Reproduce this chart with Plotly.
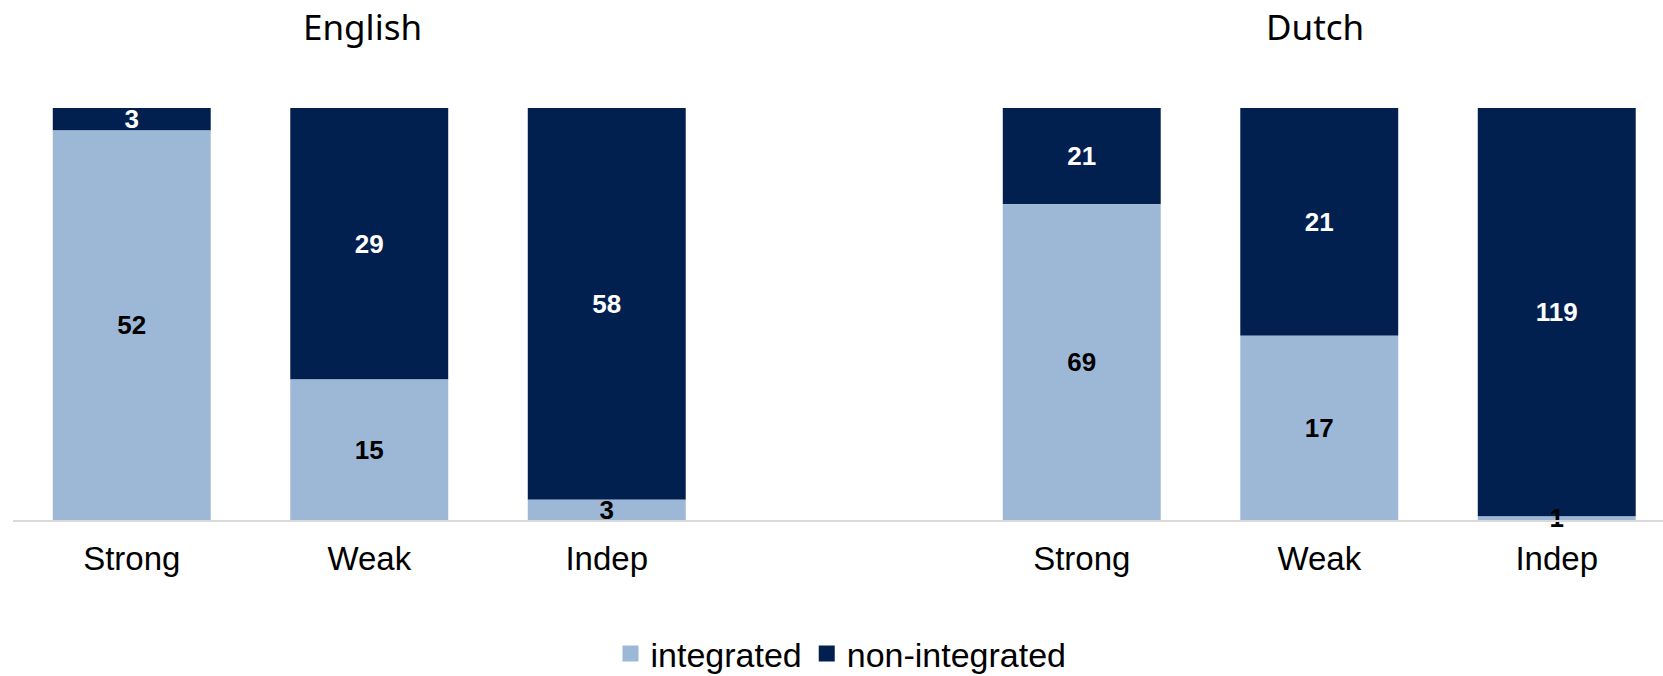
import plotly.graph_objects as go

# Clause types per language
languages = ["English", "Dutch"]
clause_types = ["Strong", "Weak", "Indep"]

# Counts per language, in clause_types order
english_integrated = [52, 15, 3]
english_non_integrated = [3, 29, 58]
dutch_integrated = [69, 17, 1]
dutch_non_integrated = [21, 21, 119]

LIGHT = "#9db8d6"
DARK = "#012050"
LABEL_FONT = "Liberation Sans, Arial"

# Category keys: one block per language, with an empty slot between the blocks
en_keys = [f"English {c}" for c in clause_types]
nl_keys = [f"Dutch {c}" for c in clause_types]
spacer = " "
category_order = en_keys + [spacer] + nl_keys
tick_text = clause_types + [""] + clause_types

x_keys = en_keys + nl_keys
integrated = english_integrated + dutch_integrated
non_integrated = english_non_integrated + dutch_non_integrated

# Share of each clause type (100% stacked)
totals = [a + b for a, b in zip(integrated, non_integrated)]
integrated_pct = [100 * a / t for a, t in zip(integrated, totals)]
non_integrated_pct = [100 * b / t for b, t in zip(non_integrated, totals)]

bar_text = dict(textposition="inside", insidetextanchor="middle", textangle=0,
                constraintext="none", texttemplate="%{text}", cliponaxis=False)

fig = go.Figure()
# Upper segment drawn first so the labels of thin lower segments stay on top
fig.add_trace(go.Bar(
    name="non-integrated", x=x_keys, y=non_integrated_pct, base=integrated_pct,
    text=non_integrated, showlegend=False,
    textfont=dict(family=LABEL_FONT, size=26, color="white", weight="bold"),
    marker=dict(color=DARK, line=dict(width=0)), **bar_text,
))
fig.add_trace(go.Bar(
    name="integrated", x=x_keys, y=integrated_pct, base=[0] * len(x_keys),
    text=integrated, showlegend=False,
    textfont=dict(family=LABEL_FONT, size=26, color="black", weight="bold"),
    marker=dict(color=LIGHT, line=dict(width=0)), **bar_text,
))

# Legend keys
for name, color in [("integrated", LIGHT), ("non-integrated", DARK)]:
    fig.add_trace(go.Scatter(
        name=name, x=[None], y=[None], mode="markers",
        marker=dict(symbol="square", size=16, color=color),
    ))

W, H = 1663, 676
L, R, T, B = 13, 0, 108, 156
plot_h = H - T - B

# Language headings above each block
heading_x = {"English": (1, -7), "Dutch": (5, -4)}
for lang in languages:
    cx, shift = heading_x[lang]
    fig.add_annotation(
        x=cx, xref="x", xshift=shift,
        y=1 + (T - 26) / plot_h, yref="paper", yanchor="middle",
        text=lang, showarrow=False,
        font=dict(family="Noto Sans", size=35, color="black"),
    )

fig.update_layout(
    width=W, height=H,
    margin=dict(l=L, r=R, t=T, b=B, pad=0),
    barmode="overlay", bargap=0.335,
    plot_bgcolor="white", paper_bgcolor="white",
    uniformtext=dict(minsize=26, mode="show"),
    showlegend=True,
    legend=dict(
        orientation="h", traceorder="normal",
        xref="container", yref="container",
        x=841 / W, xanchor="center",
        y=(H - 654) / H, yanchor="middle",
        font=dict(family=LABEL_FONT, size=34, color="black"),
        itemwidth=30, bgcolor="rgba(0,0,0,0)",
    ),
    xaxis=dict(
        type="category", categoryorder="array", categoryarray=category_order,
        tickvals=category_order, ticktext=tick_text,
        range=[-0.5, -0.5 + (W - L - R) / 237.5],
        showline=True, linecolor="#d9d9d9", linewidth=2,
        showgrid=False, zeroline=False, ticks="",
        ticklabelstandoff=8,
        tickfont=dict(family=LABEL_FONT, size=33, color="black"),
    ),
    yaxis=dict(range=[0, 100], visible=False, showgrid=False, zeroline=False),
)

fig.write_html("out.html")
